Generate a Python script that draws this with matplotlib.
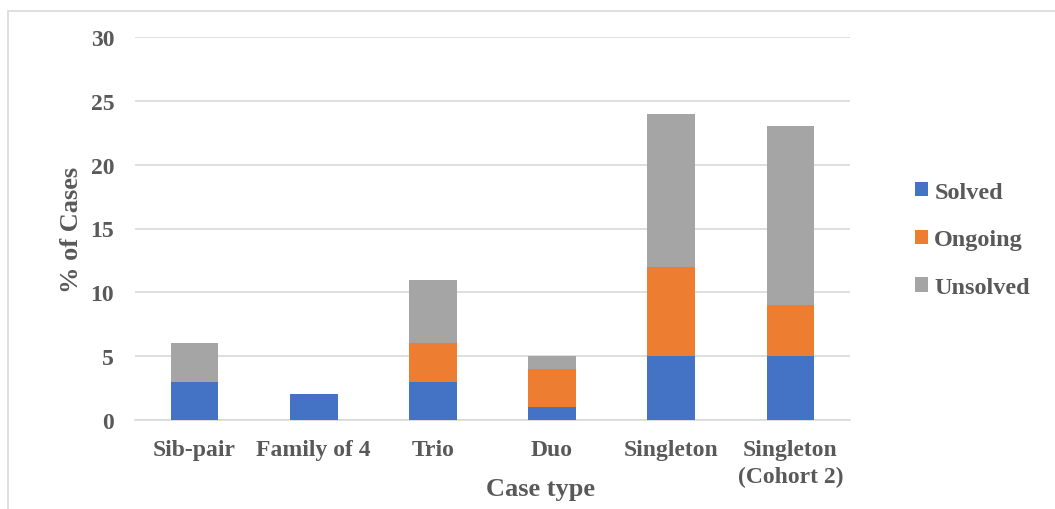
import matplotlib.pyplot as plt
import numpy as np
from matplotlib.patches import Rectangle

categories = ["Sib-pair", "Family of 4", "Trio", "Duo", "Singleton", "Singleton\n(Cohort 2)"]
solved = [3, 2, 3, 1, 5, 5]
ongoing = [0, 0, 3, 3, 7, 4]
unsolved = [3, 0, 5, 1, 12, 14]

series = [("Solved", solved, "#4472C4"),
          ("Ongoing", ongoing, "#ED7D31"),
          ("Unsolved", unsolved, "#A5A5A5")]

text_color = "#595959"
grid_color = "#D9D9D9"

plt.rcParams["font.family"] = ["Liberation Serif", "DejaVu Serif"]
plt.rcParams["font.weight"] = "bold"

fig = plt.figure(figsize=(10.55, 5.10), dpi=100)
ax = fig.add_axes([135 / 1055, 1 - 421 / 510, 715 / 1055, 383 / 510])

# thin frame around the chart area
fig.patches.append(Rectangle((8 / 1055, -0.1), 1.2, 1 - 12 / 510 + 0.1,
                             transform=fig.transFigure, fill=False,
                             edgecolor="#D9D9D9", linewidth=1.2))

x = np.arange(len(categories))
bottom = np.zeros(len(categories))
for name, vals, color in series:
    ax.bar(x, vals, width=0.4, bottom=bottom, color=color, label=name, zorder=3)
    bottom += np.array(vals)

ax.set_xlim(-0.5, len(categories) - 0.5)
ax.set_ylim(0, 30)
ax.set_yticks(range(0, 31, 5))
ax.yaxis.grid(True, color=grid_color, linewidth=1.2, zorder=0)
for s in ["top", "right", "left"]:
    ax.spines[s].set_visible(False)
ax.spines["bottom"].set_color(grid_color)
ax.spines["bottom"].set_linewidth(1.2)
ax.tick_params(axis="both", length=0, labelsize=17, labelcolor=text_color)
ax.tick_params(axis="y", pad=15)
ax.tick_params(axis="x", pad=14)
ax.set_xticks(x)
ax.set_xticklabels(categories, fontweight="bold", linespacing=1.35)
for t in ax.get_yticklabels():
    t.set_fontweight("bold")

ax.set_ylabel("% of Cases", fontsize=19, fontweight="bold", color=text_color)
ax.yaxis.set_label_coords(-0.073, 0.5)
fig.text(541 / 1055, 1 - 490 / 510, "Case type", fontsize=19, fontweight="bold",
         color=text_color, ha="center", va="center")

leg = ax.legend(loc="center left", bbox_to_anchor=(1.06, 0.47), frameon=False,
                fontsize=17.5, handlelength=0.55, handleheight=0.55, handletextpad=0.25,
                labelspacing=1.1, labelcolor=text_color)
for t in leg.get_texts():
    t.set_fontweight("bold")

fig.savefig("out.png", dpi=100)
